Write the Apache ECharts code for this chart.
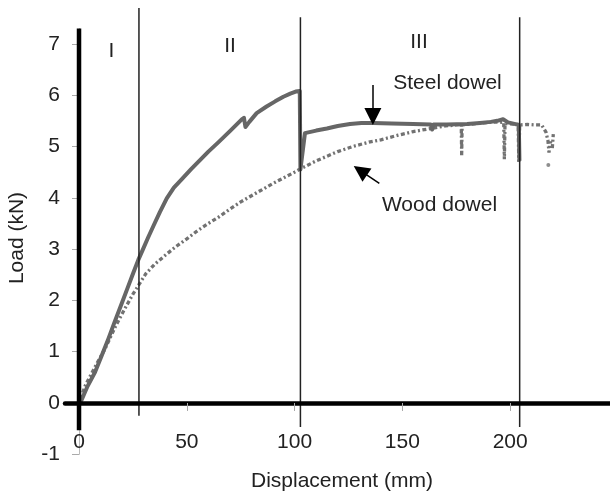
<!DOCTYPE html>
<html>
<head>
<meta charset="utf-8">
<script src="https://cdn.jsdelivr.net/npm/echarts@6/dist/echarts.min.js"></script>
<style>
  html, body { margin: 0; padding: 0; background: #fff; }
  #chart { width: 610px; height: 495px; }
</style>
</head>
<body>
<div id="chart"></div>
<script>
// tick positions
const xTicks = [0, 50, 100, 150, 200];
const yTicks = [-1, 0, 1, 2, 3, 4, 5, 6, 7];

// stage boundaries (mm) and how far each divider runs (kN)
const stageNames = ['I', 'II', 'III'];
const stageBounds = [27.8, 102.7, 204.4];
const stageTop = [7.7, 7.52, 7.52];
const stageBottom = [-0.25, -0.47, -0.47];

// steel dowel, solid curve
const steelDisp = [0, 1.2, 4, 7.4, 10.5, 13.6, 16.7, 19.8, 22.5, 25.2, 27.5, 29.5, 32, 34.5, 37.5, 40.7, 44, 47.6, 52, 56,
  60, 64.6, 70, 75.5, 76.5, 77.2, 79, 82.4, 87, 91, 94.8, 98, 100.5, 102.4, 102.7, 103.3, 104.8, 110, 115, 120,
  125.7, 131, 136.5, 145, 155, 163.2, 163.8, 164.4, 170.5, 180, 186, 191, 194, 196.7, 199, 202, 204, 204.3];
const steelLoad = [0, 0.06, 0.33, 0.6, 0.92, 1.25, 1.6, 1.94, 2.24, 2.54, 2.79, 2.98, 3.22, 3.45, 3.72, 3.99, 4.2, 4.36, 4.56, 4.73,
  4.9, 5.08, 5.3, 5.53, 5.56, 5.38, 5.48, 5.65, 5.78, 5.88, 5.97, 6.03, 6.07, 6.08, 4.55, 4.55, 5.26, 5.31, 5.35, 5.4,
  5.44, 5.46, 5.46, 5.45, 5.44, 5.43, 5.33, 5.43, 5.43, 5.44, 5.46, 5.48, 5.5, 5.53, 5.47, 5.44, 5.42, 4.72];

// wood dowel, dotted curve
const woodDisp = [0, 3, 8, 12, 17, 21, 25, 28, 31, 35, 40, 45, 50, 55, 60, 65, 70, 75, 80, 85,
  90, 95, 100, 103, 110, 115, 120, 127, 135, 140, 148, 155, 163, 170, 175, 177.3, 177.5, 177.7, 185, 193,
  197, 197.3, 197.6, 203.7, 204, 204.4, 208, 211.5, 214.6, 216.6, 217.5, 218, 218.6, 219.5, 220];
const woodLoad = [0, 0.35, 0.75, 1.05, 1.5, 1.82, 2.12, 2.32, 2.52, 2.7, 2.88, 3.05, 3.2, 3.36, 3.5, 3.63, 3.78, 3.92, 4.04, 4.16,
  4.28, 4.39, 4.5, 4.57, 4.72, 4.81, 4.9, 5.0, 5.09, 5.13, 5.22, 5.29, 5.35, 5.4, 5.42, 5.43, 4.83, 5.42, 5.45, 5.48,
  5.47, 4.75, 5.45, 5.43, 4.7, 5.42, 5.43, 5.42, 5.42, 5.28, 5.12, 4.88, 5.1, 4.95, 5.24];
const woodStrayDisp = [217.7];
const woodStrayLoad = [4.64];

// thick black load axis bar
const loadBar = [-0.53, 7.3];

// annotation arrows [from, to] in (mm, kN)
const steelArrow = [[136.3, 6.2], [136.3, 5.585]];
const woodArrow = [[139.3, 4.28], [130.5, 4.53]];

const font = "'Liberation Sans', Arial, sans-serif";
const zip = (xs, ys) => xs.map((x, i) => [x, ys[i]]);

const chart = echarts.init(document.getElementById('chart'));

const stageSeries = stageBounds.map((b, i) => ({
  type: 'line',
  data: [[b, stageBottom[i]], [b, stageTop[i]]],
  symbol: 'none',
  clip: false,
  silent: true,
  z: 4,
  lineStyle: { color: '#222', width: 1.5 }
}));

const label = (text, x, y, extra) => Object.assign({
  type: 'text',
  x: x,
  y: y,
  style: {
    text: text,
    fontSize: 21,
    fontFamily: font,
    fill: '#222',
    textAlign: 'center',
    textVerticalAlign: 'middle'
  }
}, extra || {});

chart.setOption({
  animation: false,
  grid: { left: 65, right: 0, top: 28.5, bottom: 40.7 },
  xAxis: {
    type: 'value',
    min: -6.5,
    max: 246.3,
    z: 5,
    axisLine: { onZero: true, lineStyle: { color: '#000', width: 4.5 } },
    axisTick: { customValues: xTicks, length: 8, lineStyle: { color: '#aaa', width: 1 } },
    axisLabel: { customValues: xTicks, margin: -23, fontSize: 21, fontFamily: font, color: '#222' },
    splitLine: { show: false }
  },
  yAxis: {
    type: 'value',
    min: -1,
    max: 7.3,
    axisLine: { show: true, onZero: true, lineStyle: { color: '#bbb', width: 1 } },
    axisTick: { show: true, customValues: yTicks, length: 7, lineStyle: { color: '#aaa', width: 1 } },
    axisLabel: { customValues: yTicks, margin: 5, fontSize: 21, fontFamily: font, color: '#222' },
    splitLine: { show: false }
  },
  graphic: [
    label('Load (kN)', 17.5, 238, { rotation: Math.PI / 2 }),
    label('Displacement (mm)', 342, 481),
    label(stageNames[0], 111.5, 51),
    label(stageNames[1], 230, 46),
    label(stageNames[2], 419, 42),
    label('Steel dowel', 447.5, 83),
    label('Wood dowel', 439.5, 205)
  ],
  series: [
    {
      name: 'Wood dowel',
      type: 'line',
      data: zip(woodDisp, woodLoad),
      symbol: 'none',
      z: 2,
      lineStyle: { color: '#727272', width: 3.3, type: [4, 2.5, 2, 2.5], cap: 'butt' }
    },
    {
      name: 'Wood stray',
      type: 'scatter',
      data: zip(woodStrayDisp, woodStrayLoad),
      symbolSize: 4,
      z: 2,
      itemStyle: { color: '#727272' }
    },
    {
      name: 'Steel dowel',
      type: 'line',
      data: zip(steelDisp, steelLoad),
      symbol: 'none',
      z: 3,
      lineStyle: { color: '#666', width: 4, join: 'round' }
    },
    ...stageSeries,
    {
      type: 'line',
      data: zip([0, 0], loadBar),
      symbol: 'none',
      clip: false,
      silent: true,
      z: 6,
      lineStyle: { color: '#000', width: 4.5 }
    },
    {
      type: 'line',
      data: [],
      silent: true,
      markLine: {
        silent: true,
        animation: false,
        symbol: ['none', 'triangle'],
        symbolSize: 17,
        label: { show: false },
        emphasis: { disabled: true },
        lineStyle: { color: '#000', width: 1.5, type: 'solid' },
        data: [
          [{ coord: steelArrow[0] }, { coord: steelArrow[1] }],
          [{ coord: woodArrow[0] }, { coord: woodArrow[1], symbolSize: 16 }]
        ]
      }
    }
  ]
});
</script>
</body>
</html>
